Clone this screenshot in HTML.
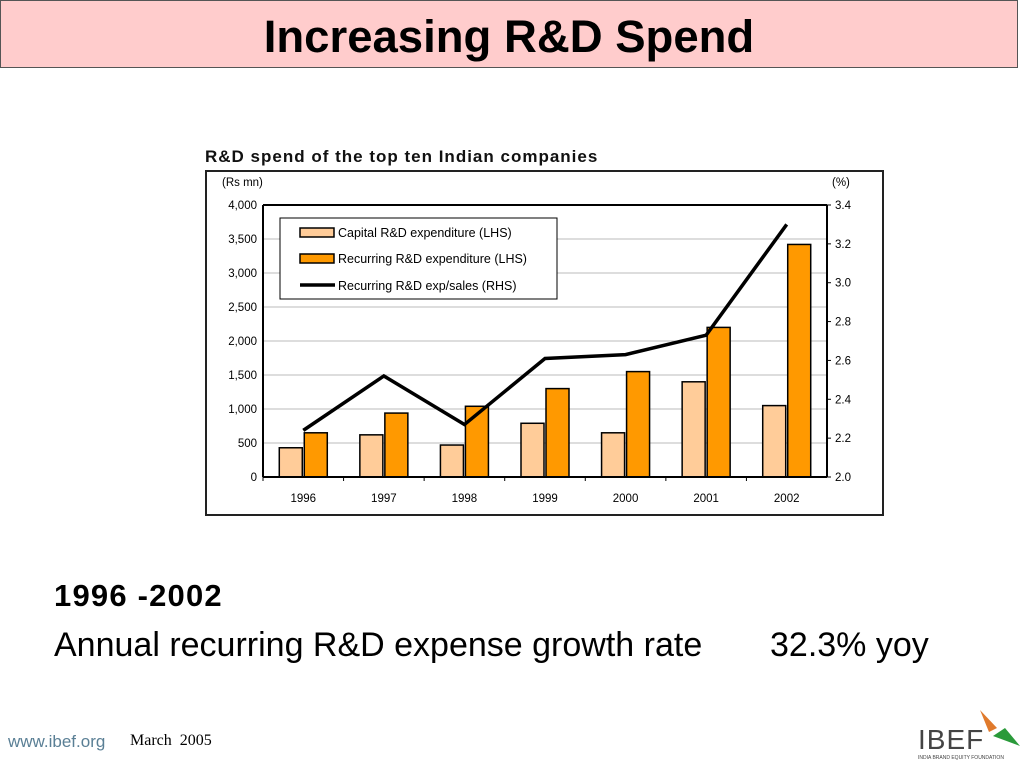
<!DOCTYPE html>
<html><head><meta charset="utf-8"><style>
body{margin:0;width:1024px;height:768px;background:#fff;position:relative;overflow:hidden;font-family:"Liberation Sans",sans-serif}
.hdr{position:absolute;left:0;top:0;width:1016px;height:66px;background:#ffcccc;border:1px solid #555;text-align:center;font-weight:bold;font-size:45.5px;line-height:72px}
.t{position:absolute;font-size:34px;white-space:nowrap}
</style></head><body>
<div class="hdr">Increasing R&amp;D Spend</div>
<svg width="1024" height="768" style="position:absolute;left:0;top:0">
<text x="205" y="162" font-size="17" font-weight="bold" letter-spacing="1" fill="#111">R&amp;D spend of the top ten Indian companies</text>
<rect x="206" y="171" width="677" height="344" fill="#fff" stroke="#222" stroke-width="2"/>
<g id="g"></g>
</svg>
<div class="t" style="left:54px;top:578px;font-weight:bold;font-size:31px;letter-spacing:1.2px">1996 -2002</div>
<div class="t" style="left:54px;top:626px">Annual recurring R&amp;D expense growth rate</div>
<div class="t" style="left:770px;top:626px">32.3% yoy</div>
<div style="position:absolute;left:8px;top:732px;font-size:17px;color:#5a7f95">www.ibef.org</div>
<div style="position:absolute;left:130px;top:732px;font-size:16px;font-family:'Liberation Serif',serif">March&nbsp; 2005</div>
<div style="position:absolute;left:918px;top:724px;font-size:28px;color:#444;letter-spacing:1px">IBEF</div>
<svg style="position:absolute;left:975px;top:708px" width="50" height="42"><path d="M5 2 L22 20 L14 24 Z" fill="#e07a2c"/><path d="M18 28 L45 38 L30 20 Z" fill="#2a9a3a"/></svg>
<div style="position:absolute;left:918px;top:755px;font-size:5px;color:#444">INDIA BRAND EQUITY FOUNDATION</div>
<script>
const years=["1996","1997","1998","1999","2000","2001","2002"];
const capital=[430,620,470,790,650,1400,1050];
const recurring=[650,940,1040,1300,1550,2200,3420];
const ratio=[2.24,2.52,2.27,2.61,2.63,2.73,3.30];
const leftTicks=[0,500,1000,1500,2000,2500,3000,3500,4000];
const rightTicks=[2.0,2.2,2.4,2.6,2.8,3.0,3.2,3.4];
const NS="http://www.w3.org/2000/svg",g=document.getElementById('g');
const L=263,R=827,T=205,B=477;
const yL=v=>B-(v/4000)*(B-T);
const yR=v=>B-((v-2)/1.4)*(B-T);
const step=(R-L)/7;const xc=i=>L+step*(i+0.5);
function mk(t,a,txt){const e=document.createElementNS(NS,t);for(const k in a)e.setAttribute(k,a[k]);if(txt!=null)e.textContent=txt;g.appendChild(e);return e;}
leftTicks.forEach(v=>{if(v>0){const e=mk('line',{x1:L,x2:R,y1:yL(v),y2:yL(v),stroke:'#bbb','stroke-width':1});

}
const t=mk('text',{x:L-6,y:yL(v)+4,'text-anchor':'end','font-size':11.5},v.toLocaleString('en-US'));

});
rightTicks.forEach(v=>{const t=mk('text',{x:R+8,y:yR(v)+4,'font-size':11.5},v.toFixed(1));


mk('line',{x1:R,x2:R+4,y1:yR(v),y2:yR(v),stroke:'#000'});});
mk('text',{x:222,y:186,'font-size':11.5},'(Rs mn)');
mk('text',{x:832,y:186,'font-size':11.5},'(%)');
years.forEach((y,i)=>{
const w=23;
const a=mk('rect',{x:xc(i)-w-1,y:yL(capital[i]),width:w,height:B-yL(capital[i]),fill:'#ffcc99',stroke:'#000','stroke-width':1.5});


const b=mk('rect',{x:xc(i)+1,y:yL(recurring[i]),width:w,height:B-yL(recurring[i]),fill:'#ff9900',stroke:'#000','stroke-width':1.5});


const t=mk('text',{x:xc(i),y:502,'text-anchor':'middle','font-size':11.5},y);


mk('line',{x1:L+step*i,x2:L+step*i,y1:B,y2:B+4,stroke:'#000'});
});
const ln=mk('polyline',{points:ratio.map((v,i)=>xc(i)+','+yR(v)).join(' '),fill:'none',stroke:'#000','stroke-width':3.5});


mk('line',{x1:L,x2:L,y1:T,y2:B,stroke:'#000','stroke-width':2});
mk('line',{x1:R,x2:R,y1:T,y2:B,stroke:'#000','stroke-width':2});
mk('line',{x1:L,x2:R,y1:B,y2:B,stroke:'#000','stroke-width':2});
mk('line',{x1:L,x2:R,y1:T,y2:T,stroke:'#000','stroke-width':2});
const lg=mk('rect',{x:280,y:218,width:277,height:81,fill:'#fff',stroke:'#000'});


mk('rect',{x:300,y:228,width:34,height:9,fill:'#ffcc99',stroke:'#000','stroke-width':1.5});
mk('text',{x:338,y:237,'font-size':12.5},'Capital R&D expenditure (LHS)');
mk('rect',{x:300,y:254,width:34,height:9,fill:'#ff9900',stroke:'#000','stroke-width':1.5});
mk('text',{x:338,y:263,'font-size':12.5},'Recurring R&D expenditure (LHS)');
mk('line',{x1:300,x2:335,y1:285,y2:285,stroke:'#000','stroke-width':3.5});
mk('text',{x:338,y:290,'font-size':12.5},'Recurring R&D exp/sales (RHS)');
</script>
</body></html>
